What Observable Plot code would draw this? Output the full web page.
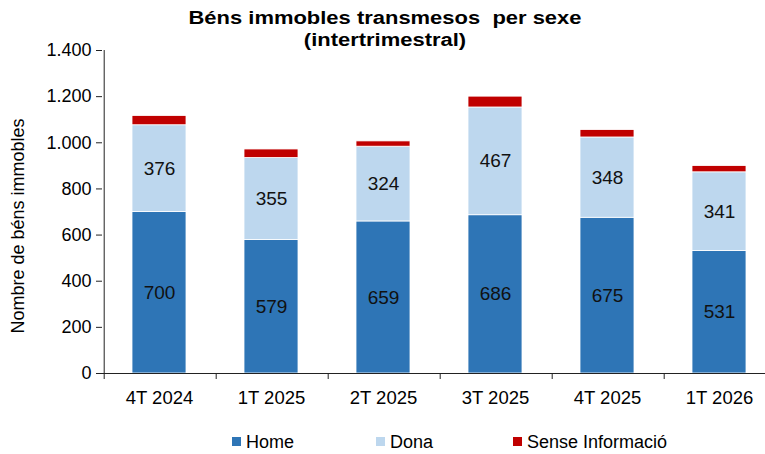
<!DOCTYPE html>
<html>
<head>
<meta charset="utf-8">
<script src="https://cdn.jsdelivr.net/npm/d3@7"></script>
<script src="https://cdn.jsdelivr.net/npm/@observablehq/plot@0.6"></script>
<style>
  html, body { margin: 0; padding: 0; background: #fff; }
  #wrap { position: relative; width: 765px; height: 454px; overflow: hidden; font-family: Arial, "Liberation Sans", sans-serif; }
  #title { position: absolute; left: 385px; top: 7px; transform: translateX(-50%) scaleX(1.22); white-space: nowrap; text-align: center; font-weight: bold; font-size: 18px; line-height: 22px; color: #000; }
  #ylabel { position: absolute; left: 18px; top: 226px; transform: translate(-50%, -50%) rotate(-90deg); white-space: nowrap; font-size: 18px; color: #000; }
  #legend { position: absolute; top: 432px; left: 0; width: 765px; height: 22px; font-size: 18px; color: #000; }
  .li { position: absolute; top: 0; white-space: nowrap; }
  .sw { display: inline-block; width: 9px; height: 9px; margin-right: 5px; vertical-align: 2px; }
  svg { position: absolute; left: 0; top: 0; }
</style>
</head>
<body>
<div id="wrap">
  <div id="title">Béns immobles transmesos&nbsp; per sexe<br>(intertrimestral)</div>
  <div id="ylabel">Nombre de béns immobles</div>
  <div id="legend"></div>
</div>
<script>
const quarters = ["4T 2024", "1T 2025", "2T 2025", "3T 2025", "4T 2025", "1T 2026"];
const home = [700, 579, 659, 686, 675, 531];
const dona = [376, 355, 324, 467, 348, 341];
const sense = [40, 37, 23, 47, 32, 27];
const seriesNames = ["Home", "Dona", "Sense Informació"];
const seriesColors = ["#2E75B6", "#BDD7EE", "#C00000"];
const yTicks = [0, 200, 400, 600, 800, 1000, 1200, 1400];

const rows = [];
quarters.forEach((q, i) => {
  rows.push({q, serie: "Home", v: home[i]});
  rows.push({q, serie: "Dona", v: dona[i]});
  rows.push({q, serie: "Sense Informació", v: sense[i]});
});

const loc = d3.formatLocale({decimal: ",", thousands: ".", grouping: [3], currency: ["", "€"]});
const fmt = loc.format(",");

const xRange = [101, 776.6];
const step = (xRange[1] - xRange[0]) / quarters.length;

const chart = Plot.plot({
  width: 765,
  height: 454,
  marginTop: 50,
  marginBottom: 81,
  marginLeft: 102,
  marginRight: 0,
  style: {fontFamily: "Arial, 'Liberation Sans', sans-serif", color: "#000", background: "transparent"},
  x: {domain: quarters, range: xRange, paddingInner: 0.52, paddingOuter: 0.26, axis: null},
  y: {domain: [0, 1400], axis: null},
  color: {domain: seriesNames, range: seriesColors},
  marks: [
    Plot.barY(rows, Plot.stackY({x: "q", y: "v", z: "serie", fill: "serie", stroke: "white", strokeWidth: 0.8})),
    Plot.text(rows, Plot.stackY({
      x: "q", y: "v", z: "serie", text: d => String(d.v),
      filter: d => d.serie !== "Sense Informació",
      fontSize: 19, fill: "#111"
    })),
    Plot.ruleX([quarters[0]], {x: d => d, y1: 0, y2: 1400, dx: -step / 2 + 1, stroke: "#222"}),
    Plot.ruleY([0], {stroke: "#222"}),
    Plot.axisY(yTicks, {tickSize: 6, tickPadding: 5, tickFormat: fmt, fontSize: 18, stroke: "#222", label: null}),
    Plot.axisX(quarters, {tickSize: 6, tickFormat: () => "", dx: -step / 2 + 1, stroke: "#222", label: null}),
    Plot.axisX(quarters, {tickSize: 0, tickPadding: 17, fontSize: 18.5, label: null})
  ]
});
document.getElementById("wrap").prepend(chart);

const legendPos = [232, 376, 513];
const lg = document.getElementById("legend");
seriesNames.forEach((n, i) => {
  const d = document.createElement("div");
  d.className = "li";
  d.style.left = legendPos[i] + "px";
  d.innerHTML = `<span class="sw" style="background:${seriesColors[i]}"></span>${n}`;
  lg.appendChild(d);
});
</script>
</body>
</html>
